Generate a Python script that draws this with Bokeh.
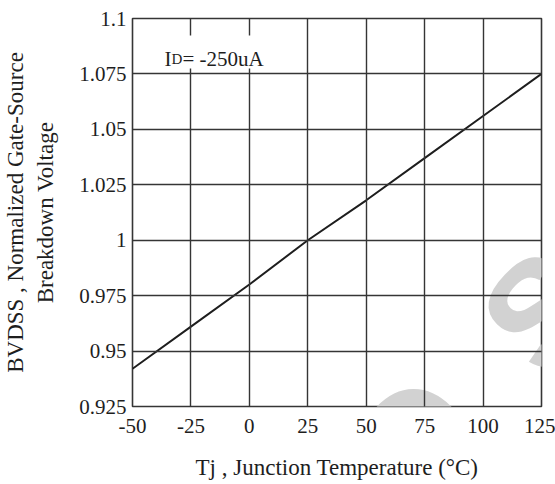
import math
from bokeh.plotting import figure
from bokeh.models import Range1d, FixedTicker, CustomJSTickFormatter, Label, BoxAnnotation
from bokeh.embed import file_html
from bokeh.resources import INLINE

# ---- data ----
temps = [-50, -25, 0, 25, 50, 75, 100, 125]
bvdss = [0.942, 0.961, 0.980, 1.000, 1.018, 1.037, 1.056, 1.075]
x_ticks = [-50, -25, 0, 25, 50, 75, 100, 125]
x_tick_labels = ["-50", "-25", "0", "25", "50", "75", "100", "125"]
y_ticks = [0.925, 0.95, 0.975, 1.0, 1.025, 1.05, 1.075, 1.1]
y_tick_labels = ["0.925", "0.95", "0.975", "1", "1.025", "1.05", "1.075", "1.1"]
x_title = "Tj , Junction Temperature (°C)"
y_title = "BVDSS , Normalized Gate-Source\nBreakdown Voltage"

SERIF = "Liberation Serif"
INK = "#1e1e1e"
GRID = "#353535"

p = figure(width=555, height=484, output_backend="svg", toolbar_location=None,
           x_range=Range1d(-50, 125), y_range=Range1d(0.925, 1.1),
           min_border_left=131, min_border_right=14, min_border_top=18, min_border_bottom=78)
p.title = None
p.background_fill_color = "white"
p.border_fill_color = "white"
p.outline_line_color = GRID
p.outline_line_width = 1.6

fmt_code = ("const i = tvals.findIndex(t => Math.abs(t - tick) < 1e-9);"
            "return i >= 0 ? tlabels[i] : String(tick);")
p.xaxis.ticker = FixedTicker(ticks=x_ticks)
p.yaxis.ticker = FixedTicker(ticks=y_ticks)
p.xaxis.formatter = CustomJSTickFormatter(args=dict(tvals=x_ticks, tlabels=x_tick_labels), code=fmt_code)
p.yaxis.formatter = CustomJSTickFormatter(args=dict(tvals=y_ticks, tlabels=y_tick_labels), code=fmt_code)

for ax in (p.xaxis, p.yaxis):
    ax.axis_line_color = None
    ax.major_tick_in = 0
    ax.major_tick_out = 0
    ax.minor_tick_line_color = None
    ax.major_label_text_font = SERIF
    ax.major_label_text_font_size = "21px"
    ax.major_label_text_color = INK
    ax.axis_label_text_font = SERIF
    ax.axis_label_text_font_size = "23px"
    ax.axis_label_text_font_style = "normal"
    ax.axis_label_text_color = INK
p.xaxis.major_label_standoff = 12
p.yaxis.major_label_standoff = 6
p.xaxis.axis_label = x_title
p.yaxis.axis_label = y_title
p.xaxis.axis_label_standoff = 19
p.yaxis.axis_label_standoff = 18
p.yaxis.axis_label_text_line_height = 1.2

p.xgrid.ticker = FixedTicker(ticks=x_ticks)
p.ygrid.ticker = FixedTicker(ticks=y_ticks)
for g in (p.xgrid, p.ygrid):
    g.grid_line_color = GRID
    g.grid_line_width = 1.4
    g.grid_line_alpha = 1.0
    g.level = "guide"

# ---- watermark (behind grid) ----
wm_angle = math.radians(46)
for ch, sx, sy in [("O", 282, -37), ("S", 410, 95)]:
    p.add_layout(Label(x=sx, y=sy, x_units="screen", y_units="screen", text=ch,
                       angle=wm_angle, text_align="center", text_baseline="middle",
                       text_font="Liberation Sans", text_font_style="bold",
                       text_font_size="150px", text_color="#d2d2d2", level="image"))

# ---- data line ----
p.line(temps, bvdss, line_color=INK, line_width=2)

# ---- condition label with white box ----
p.add_layout(BoxAnnotation(left=27, right=144, top=371, bottom=338,
                           left_units="screen", right_units="screen",
                           top_units="screen", bottom_units="screen",
                           fill_color="white", fill_alpha=1.0, line_color=None))
for txt, sx, size in [("I", 32, "21px"), ("D", 39, "15px"), ("= -250uA", 50, "21px")]:
    p.add_layout(Label(x=sx, y=348, x_units="screen", y_units="screen", text=txt,
                       text_font=SERIF, text_font_size=size, text_color=INK,
                       text_align="left", text_baseline="alphabetic"))

open("out.html", "w").write(file_html(p, INLINE))
